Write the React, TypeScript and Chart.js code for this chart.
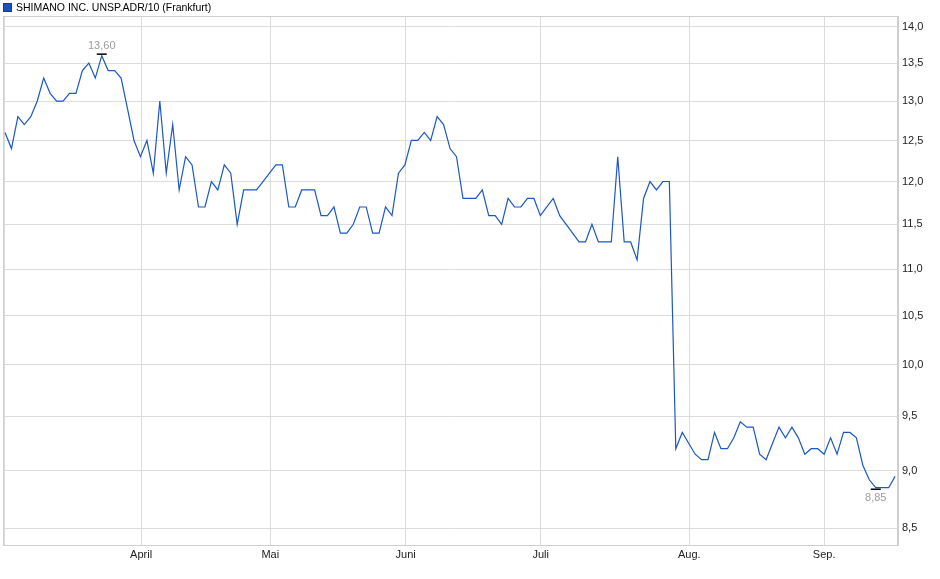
import { useEffect, useRef } from "react";
import { Chart, registerables } from "chart.js";

Chart.register(...registerables);

const title = "SHIMANO INC. UNSP.ADR/10 (Frankfurt)";

// daily closing prices, one per trading day (EUR)
const closes = [
  12.6, 12.4, 12.8, 12.7, 12.8, 13.0, 13.3, 13.1, 13.0, 13.0,
  13.1, 13.1, 13.4, 13.5, 13.3, 13.6, 13.4, 13.4, 13.3, 12.9,
  12.5, 12.3, 12.5, 12.1, 13.0, 12.1, 12.7, 11.9, 12.3, 12.2,
  11.7, 11.7, 12.0, 11.9, 12.2, 12.1, 11.5, 11.9, 11.9, 11.9,
  12.0, 12.1, 12.2, 12.2, 11.7, 11.7, 11.9, 11.9, 11.9, 11.6,
  11.6, 11.7, 11.4, 11.4, 11.5, 11.7, 11.7, 11.4, 11.4, 11.7,
  11.6, 12.1, 12.2, 12.5, 12.5, 12.6, 12.5, 12.8, 12.7, 12.4,
  12.3, 11.8, 11.8, 11.8, 11.9, 11.6, 11.6, 11.5, 11.8, 11.7,
  11.7, 11.8, 11.8, 11.6, 11.7, 11.8, 11.6, 11.5, 11.4, 11.3,
  11.3, 11.5, 11.3, 11.3, 11.3, 12.3, 11.3, 11.3, 11.1, 11.8,
  12.0, 11.9, 12.0, 12.0, 9.2, 9.35, 9.25, 9.15, 9.1, 9.1,
  9.35, 9.2, 9.2, 9.3, 9.45, 9.4, 9.4, 9.15, 9.1, 9.25,
  9.4, 9.3, 9.4, 9.3, 9.15, 9.2, 9.2, 9.15, 9.3, 9.15,
  9.35, 9.35, 9.3, 9.05, 8.92, 8.85, 8.85, 8.85, 8.95,
];

// month starts, as positions on the trading-day index
const monthStarts = [0, 21.1, 41.13, 62.12, 83.05, 106.1, 127.0];
const monthLabels = ["", "April", "Mai", "Juni", "Juli", "Aug.", "Sep."];

const priceTicks = [8.5, 9.0, 9.5, 10.0, 10.5, 11.0, 11.5, 12.0, 12.5, 13.0, 13.5, 14.0];

const fmt = (v: number, d: number) => v.toFixed(d).replace(".", ",");

const frame = {
  id: "frame",
  beforeDatasetsDraw(chart: any) {
    const { ctx, chartArea: a } = chart;
    ctx.save();
    ctx.strokeStyle = "#cfcfcf";
    ctx.lineWidth = 1;
    ctx.strokeRect(a.left + 0.5, a.top + 0.5, a.right - a.left - 1, a.bottom - a.top);
    ctx.restore();
  },
};

const extremes = {
  id: "extremes",
  afterDatasetsDraw(chart: any) {
    const { ctx, scales } = chart;
    let hi = 0;
    let lo = 0;
    closes.forEach((v, i) => {
      if (v > closes[hi]) hi = i;
      if (v < closes[lo]) lo = i;
    });
    ctx.save();
    ctx.font = "11px 'Liberation Sans', Arial, sans-serif";
    ctx.textAlign = "center";
    ctx.fillStyle = "#9c9c9c";
    ctx.strokeStyle = "#000";
    ctx.lineWidth = 1.5;

    const hx = scales.x.getPixelForValue(hi);
    const hy = scales.y.getPixelForValue(closes[hi]);
    ctx.beginPath();
    ctx.moveTo(hx - 5, hy - 1.5);
    ctx.lineTo(hx + 5, hy - 1.5);
    ctx.stroke();
    ctx.textBaseline = "bottom";
    ctx.fillText(fmt(closes[hi], 2), hx, hy - 4);

    const lx = scales.x.getPixelForValue(lo);
    const ly = scales.y.getPixelForValue(closes[lo]);
    ctx.beginPath();
    ctx.moveTo(lx - 5, ly + 1.5);
    ctx.lineTo(lx + 5, ly + 1.5);
    ctx.stroke();
    ctx.textBaseline = "top";
    ctx.fillText(fmt(closes[lo], 2), lx, ly + 5);
    ctx.restore();
  },
};

export default function App() {
  const canvasRef = useRef<HTMLCanvasElement>(null);

  useEffect(() => {
    document.body.style.margin = "0";
    if (!canvasRef.current) return;
    const font = { family: "'Liberation Sans', Arial, sans-serif", size: 11 };

    const chart = new Chart(canvasRef.current, {
      type: "line",
      data: {
        datasets: [{
          data: closes.map((v, i) => ({ x: i, y: v })),
          borderColor: "#1b57c6",
          borderWidth: 1.2,
          pointRadius: 0,
          tension: 0,
          fill: false,
        }],
      },
      options: {
        animation: false,
        responsive: false,
        layout: { padding: { left: 3, top: 16, right: 0, bottom: 0 } },
        plugins: { legend: { display: false }, tooltip: { enabled: false } },
        scales: {
          x: {
            type: "linear",
            min: -0.31,
            max: 138.45,
            afterBuildTicks: (s: any) => { s.ticks = monthStarts.map(v => ({ value: v })); },
            afterFit: (s: any) => { s.height = 34; },
            ticks: {
              autoSkip: false, maxRotation: 0, padding: 3, color: "#222", font,
              callback: (_v: any, i: number) => monthLabels[i],
            },
            grid: { color: "#dcdcdc", drawTicks: false },
            border: { color: "#cfcfcf" },
          },
          y: {
            type: "logarithmic",
            position: "right",
            min: 8.36,
            max: 14.147,
            afterBuildTicks: (s: any) => { s.ticks = priceTicks.map(v => ({ value: v })); },
            afterFit: (s: any) => { s.width = 42; },
            ticks: {
              padding: 4, color: "#222", font,
              callback: (v: any) => fmt(Number(v), 1),
            },
            grid: { color: "#dcdcdc", drawTicks: false },
            border: { color: "#cfcfcf" },
          },
        },
      },
      plugins: [frame, extremes],
    } as any);

    return () => chart.destroy();
  }, []);

  return (
    <div style={{ position: "relative", width: 940, height: 579, background: "#fff" }}>
      <div style={{ position: "absolute", left: 3, top: 0, height: 14, display: "flex", alignItems: "center", font: "10.5px 'Liberation Sans', Arial, sans-serif", color: "#000" }}>
        <span style={{ display: "inline-block", width: 7, height: 7, background: "#1f50c0", border: "1px solid #173c8c", marginRight: 4 }}></span>
        {title}
      </div>
      <canvas ref={canvasRef} width={940} height={579} style={{ width: 940, height: 579 }}></canvas>
    </div>
  );
}
